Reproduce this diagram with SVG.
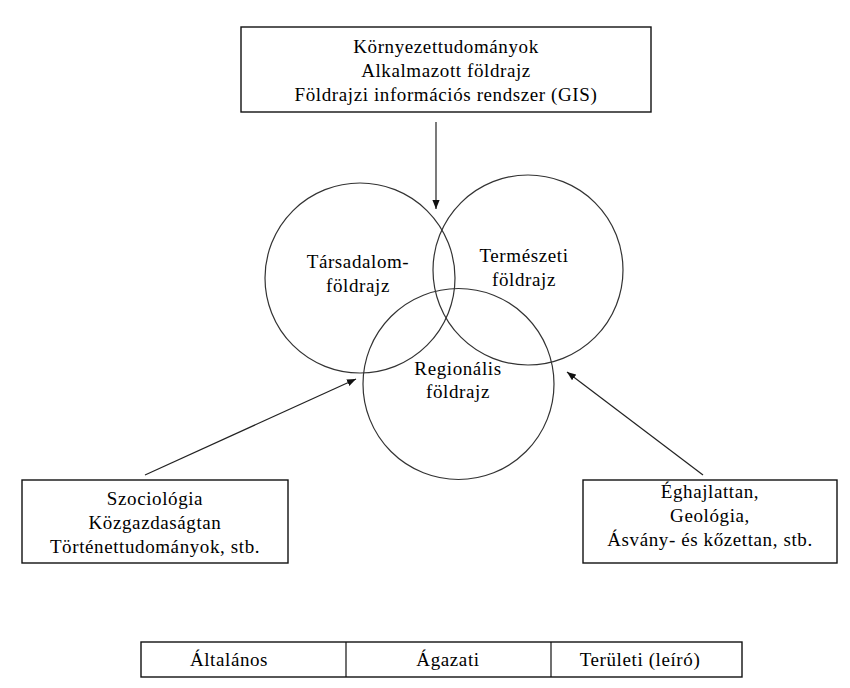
<svg xmlns="http://www.w3.org/2000/svg" width="850" height="688" viewBox="0 0 850 688">
<defs>
<style>
text{font-family:"Liberation Serif","DejaVu Serif",serif;font-size:19px;fill:#000;text-anchor:middle;letter-spacing:0.6px}
.box{fill:#fff;stroke:#111;stroke-width:1.4}
.circ{fill:none;stroke:#333;stroke-width:1.2}
.con{stroke:#222;stroke-width:1.2;fill:none}
</style>
<marker id="ah" viewBox="0 0 10 10" refX="10" refY="5" markerWidth="9" markerHeight="9" markerUnits="userSpaceOnUse" orient="auto">
<path d="M0,1 L10,5 L0,9 Z" fill="#111"/>
</marker>
</defs>
<rect width="850" height="688" fill="#fff"/>
<g font-family="Liberation Serif, DejaVu Serif, serif">
<g id="node-top">
<rect class="box" x="241" y="27" width="410" height="85"/>
<text x="446" y="53">Környezettudományok</text>
<text x="446" y="77">Alkalmazott földrajz</text>
<text x="446" y="101">Földrajzi információs rendszer (GIS)</text>
</g>
<g id="node-tarsadalom">
<circle class="circ" cx="360" cy="278" r="95"/>
<text x="358" y="268">Társadalom-</text>
<text x="358" y="292">földrajz</text>
</g>
<g id="node-termeszeti">
<circle class="circ" cx="528" cy="270" r="95"/>
<text x="524" y="262">Természeti</text>
<text x="524" y="286">földrajz</text>
</g>
<g id="node-regionalis">
<circle class="circ" cx="458.5" cy="384" r="95.5"/>
<text x="458" y="375">Regionális</text>
<text x="458" y="398">földrajz</text>
</g>
<g id="node-left">
<rect class="box" x="22" y="480" width="266" height="83"/>
<text x="155" y="505">Szociológia</text>
<text x="155" y="529">Közgazdaságtan</text>
<text x="155" y="553">Történettudományok, stb.</text>
</g>
<g id="node-right">
<rect class="box" x="583" y="480" width="254" height="83"/>
<text x="710" y="498">Éghajlattan,</text>
<text x="710" y="522">Geológia,</text>
<text x="710" y="546">Ásvány- és kőzettan, stb.</text>
</g>
<g id="node-table">
<rect class="box" x="141" y="642" width="601" height="35"/>
<line x1="346" y1="642" x2="346" y2="677" stroke="#111" stroke-width="1.2"/>
<line x1="551" y1="642" x2="551" y2="677" stroke="#111" stroke-width="1.2"/>
<text x="229" y="666">Általános</text>
<text x="448" y="666">Ágazati</text>
<text x="640" y="666">Területi (leíró)</text>
</g>
</g>
<g id="connectors">
<line class="con" x1="436" y1="122" x2="436" y2="209" marker-end="url(#ah)"/>
<line class="con" x1="145" y1="475" x2="356" y2="379" marker-end="url(#ah)"/>
<line class="con" x1="703" y1="475" x2="567" y2="372" marker-end="url(#ah)"/>
</g>
</svg>
